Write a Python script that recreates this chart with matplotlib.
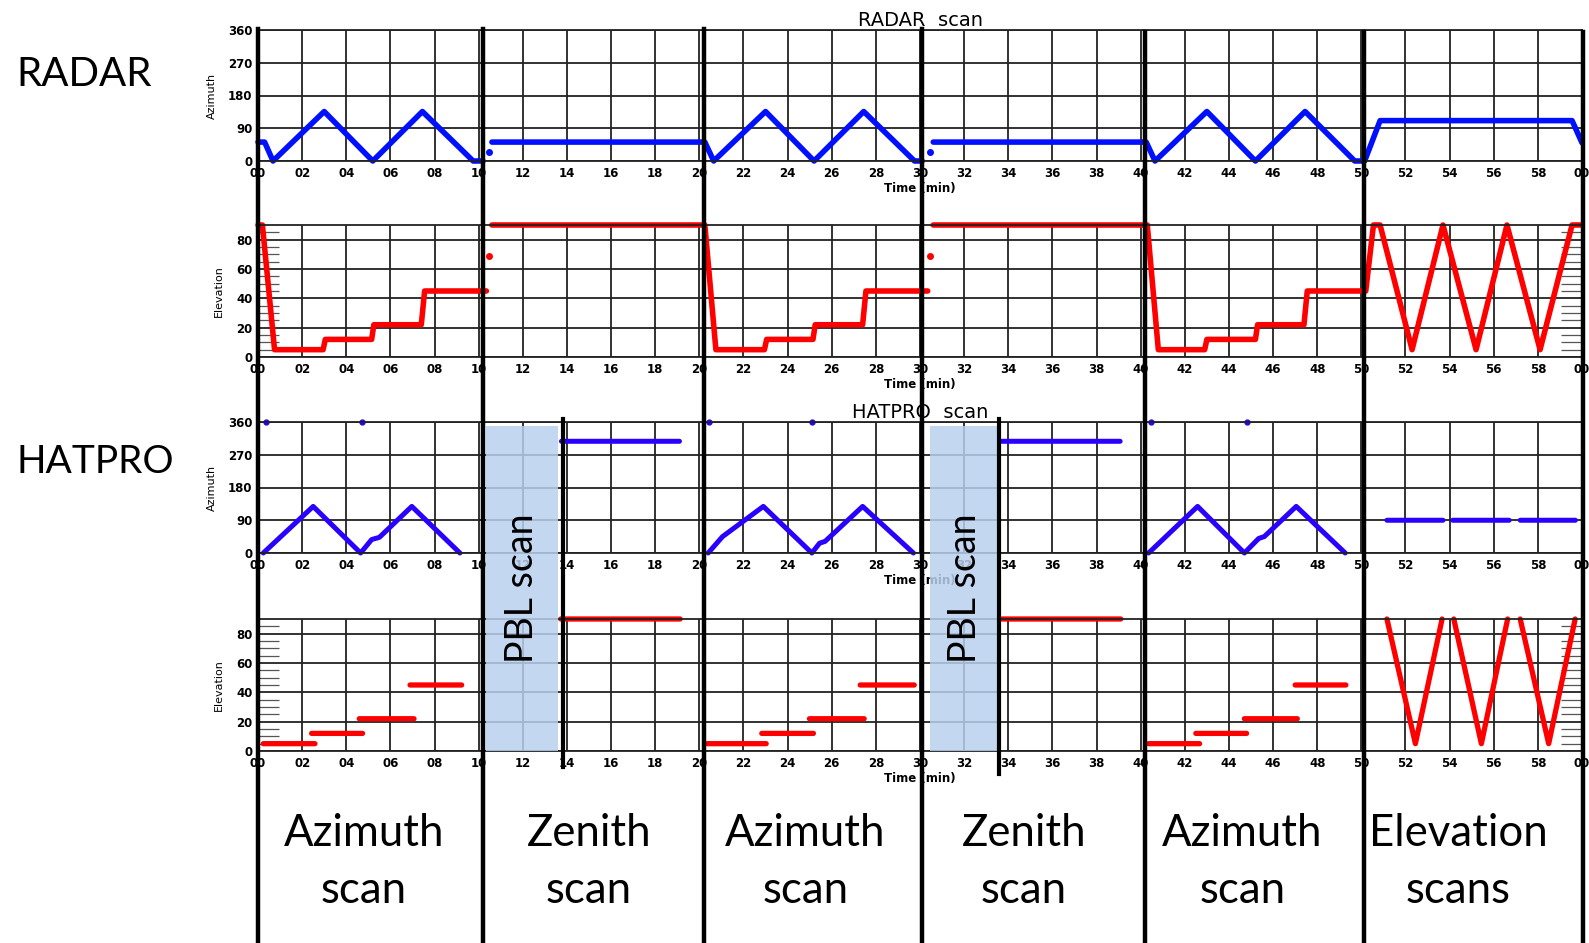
"""
Scan-strategy overview: RADAR and HATPRO azimuth / elevation over one hour.
"""

import matplotlib.pyplot as plt
import numpy as np
from matplotlib.lines import Line2D
from matplotlib.patches import Rectangle
from matplotlib.transforms import blended_transform_factory

nan = np.nan

# -------------------------
# Data (time in minutes, angles in degrees)
# -------------------------
radar_az_time = [0.0, 0.3, 0.68, 3.0, 5.2, 7.45, 9.75, 10.2, nan,
                 10.6, 20.25, 20.65, 23.0, 25.2, 27.45, 29.75, 30.1, nan,
                 30.6, 40.25, 40.65, 43.0, 45.2, 47.45, 49.7, 50.15,
                 50.85, 59.55, 60.0]
radar_az = [52, 52, 0, 136, 0, 136, 0, 0, nan,
            52, 52, 0, 136, 0, 136, 0, 0, nan,
            52, 52, 0, 136, 0, 136, 0, 0,
            111, 111, 50]
radar_az_dot_time = [10.45, 30.45]
radar_az_dot = [25, 25]

radar_el_time = [0.0, 0.2, 0.75, 2.95, 3.05, 5.15, 5.25, 7.4, 7.55, 10.35, nan,
                 10.6, 20.25, 20.75, 22.95, 23.05, 25.15, 25.25, 27.4, 27.55, 30.35, nan,
                 30.6, 40.3, 40.8, 42.9, 43.0, 45.2, 45.3, 47.4, 47.55, 50.2,
                 50.55, 50.85, 52.3, 53.7, 55.2, 56.6, 58.1, 59.55, 60.0]
radar_el = [90, 90, 5, 5, 12, 12, 22, 22, 45, 45, nan,
            90, 90, 5, 5, 12, 12, 22, 22, 45, 45, nan,
            90, 90, 5, 5, 12, 12, 22, 22, 45, 45,
            90, 90, 5, 90, 5, 90, 5, 90, 90]
radar_el_dot_time = [10.45, 30.45]
radar_el_dot = [69, 69]

hatpro_az_time = [0.24, 2.5, 4.65, 5.15, 5.5, 6.97, 9.15, nan,
                  13.75, 19.1, nan,
                  20.4, 21.05, 22.9, 25.1, 25.45, 25.7, 27.4, 29.7, nan,
                  33.7, 39.07, nan,
                  40.36, 42.58, 44.7, 45.35, 45.6, 47.05, 49.27, nan,
                  51.16, 53.7, nan, 54.14, 56.7, nan, 57.2, 59.7]
hatpro_az = [0, 128, 0, 37, 43, 128, 0, nan,
             307, 307, nan,
             0, 45, 128, 0, 27, 32, 128, 0, nan,
             307, 307, nan,
             0, 128, 0, 40, 45, 128, 0, nan,
             90, 90, nan, 90, 90, nan, 90, 90]
hatpro_az_dot_time = [0.36, 4.7, 20.45, 25.1, 40.45, 44.8]
hatpro_az_dot = [360, 360, 360, 360, 360, 360]

hatpro_el_time = [0.24, 2.58, nan, 2.43, 4.74, nan, 4.59, 7.07, nan, 6.89, 9.23, nan,
                  13.72, 19.13, nan,
                  20.34, 23.03, nan, 22.83, 25.17, nan, 24.99, 27.47, nan, 27.29, 29.74, nan,
                  33.71, 39.1, nan,
                  40.36, 42.67, nan, 42.5, 44.8, nan, 44.7, 47.1, nan, 47.0, 49.3, nan,
                  51.16, 52.45, 53.66, nan, 54.19, 55.44, 56.63, nan, 57.2, 58.49, 59.69]
hatpro_el = [5, 5, nan, 12, 12, nan, 22, 22, nan, 45, 45, nan,
             90, 90, nan,
             5, 5, nan, 12, 12, nan, 22, 22, nan, 45, 45, nan,
             90, 90, nan,
             5, 5, nan, 12, 12, nan, 22, 22, nan, 45, 45, nan,
             90, 5, 90, nan, 90, 5, 90, nan, 90, 5, 90]

# scan segments and annotations
seg_bounds = [0.0, 10.2, 20.2, 30.1, 40.2, 50.1, 60.05]
scan_labels = ["Azimuth\nscan", "Zenith\nscan", "Azimuth\nscan",
               "Zenith\nscan", "Azimuth\nscan", "Elevation\nscans"]
scan_label_time = [4.8, 15.0, 24.8, 34.7, 44.6, 54.4]
pbl_start = [10.34, 30.46]
pbl_end = [13.6, 33.63]
zenith_start = [13.83, 33.58]

time_ticks = np.arange(0, 61, 2)
time_tick_labels = [f"{int(t) % 60:02d}" for t in time_ticks]
az_ticks = [0, 90, 180, 270, 360]
el_ticks = [0, 20, 40, 60, 80]

W, H = 1589, 943
GRID = "#222222"
BLUE_R = "#0010ff"
BLUE_H = "#2a00ff"
RED = "#ff0000"
BIG_FONT = "Lato"


def fx(px):
    return px / W


def fy(py):
    return 1 - py / H


def px_rect(left, top, right, bottom):
    return [fx(left), fy(bottom), (right - left) / W, (bottom - top) / H]


def style_axes(ax, ylim, yticks, ylabel, label_x, minor=False):
    ax.set_xlim(0, 60)
    ax.set_ylim(*ylim)
    ax.set_xticks(time_ticks)
    ax.set_xticklabels(time_tick_labels)
    ax.set_yticks(yticks)
    ax.grid(True, color=GRID, lw=1.3)
    ax.set_axisbelow(True)
    ax.tick_params(axis="both", which="major", length=0, labelsize=8.5, pad=4)
    for lab in ax.get_xticklabels() + ax.get_yticklabels():
        lab.set_fontweight("bold")
    for sp in ax.spines.values():
        sp.set_linewidth(1.3)
        sp.set_color(GRID)
    ax.set_ylabel(ylabel, fontsize=8)
    ax.yaxis.set_label_coords(label_x, 0.5)
    ax.set_xlabel("Time (min)", fontsize=8.5, fontweight="bold", labelpad=2)
    if minor:
        ax.set_yticks(np.arange(5, 90, 5), minor=True)
        ax.tick_params(axis="y", which="minor", direction="in", length=15,
                       width=0.9, color="#555555", left=True, right=True)


fig = plt.figure(figsize=(W / 100, H / 100), dpi=100)

ax_ra = fig.add_axes(px_rect(258, 30, 1582, 161))
ax_re = fig.add_axes(px_rect(258, 225, 1582, 357))
ax_ha = fig.add_axes(px_rect(258, 422, 1582, 553))
ax_he = fig.add_axes(px_rect(258, 619, 1582, 751))

style_axes(ax_ra, (0, 360), az_ticks, "Azimuth", -0.031)
style_axes(ax_re, (0, 90), el_ticks, "Elevation", -0.026, minor=True)
style_axes(ax_ha, (0, 360), az_ticks, "Azimuth", -0.031)
style_axes(ax_he, (0, 90), el_ticks, "Elevation", -0.026, minor=True)

# -------------------------
# Traces
# -------------------------
ax_ra.plot(radar_az_time, radar_az, color=BLUE_R, lw=4.0, clip_on=False,
           solid_joinstyle="round", solid_capstyle="round")
ax_ra.plot(radar_az_dot_time, radar_az_dot, "o", color=BLUE_R, ms=4, clip_on=False)

ax_re.plot(radar_el_time, radar_el, color=RED, lw=4.0, clip_on=False,
           solid_joinstyle="round", solid_capstyle="round")
ax_re.plot(radar_el_dot_time, radar_el_dot, "o", color=RED, ms=4, clip_on=False)

ax_ha.plot(hatpro_az_time, hatpro_az, color=BLUE_H, lw=3.6, clip_on=False,
           solid_joinstyle="round", solid_capstyle="round")
ax_ha.plot(hatpro_az_dot_time, hatpro_az_dot, "o", color=BLUE_H, ms=3.5, clip_on=False)

ax_he.plot(hatpro_el_time, hatpro_el, color=RED, lw=3.8, clip_on=False,
           solid_joinstyle="round", solid_capstyle="round")

# titles, made to look like the IDL plot titles
fig.text(fx(920), fy(20), "RADAR  scan", ha="center", va="center", fontsize=14)
fig.text(fx(920), fy(412), "HATPRO  scan", ha="center", va="center", fontsize=14)

# -------------------------
# Overlay annotations
# -------------------------
blend = blended_transform_factory(ax_he.transData, fig.transFigure)

for t0, t1 in zip(pbl_start, pbl_end):
    fig.add_artist(Rectangle((t0, fy(751)), t1 - t0, (751 - 426) / H,
                             transform=blend, facecolor="#b9d0ee", alpha=0.85,
                             edgecolor="none", zorder=4))
    fig.text(0.5 * (t0 + t1), fy(588), "PBL scan", transform=blend,
             rotation=90, ha="center", va="center", fontsize=27,
             family=BIG_FONT, zorder=6)

for t, bottom in zip(zenith_start, [767, 774]):
    fig.add_artist(Line2D([t, t], [fy(419), fy(bottom)], transform=blend,
                          color="black", lw=3.0, zorder=7))

for i, t in enumerate(seg_bounds):
    top = 29 if i < 4 else 32
    fig.add_artist(Line2D([t, t], [fy(top), 0], transform=blend,
                          color="black", lw=3.2, zorder=8))

for t, label in zip(scan_label_time, scan_labels):
    fig.text(t, fy(862), label, transform=blend, ha="center", va="center",
             fontsize=31.5, family=BIG_FONT, linespacing=1.5)

fig.text(fx(16), fy(75), "RADAR", ha="left", va="center", fontsize=29, family=BIG_FONT)
fig.text(fx(16), fy(462), "HATPRO", ha="left", va="center", fontsize=28, family=BIG_FONT)

fig.savefig("out.png", dpi=100)
